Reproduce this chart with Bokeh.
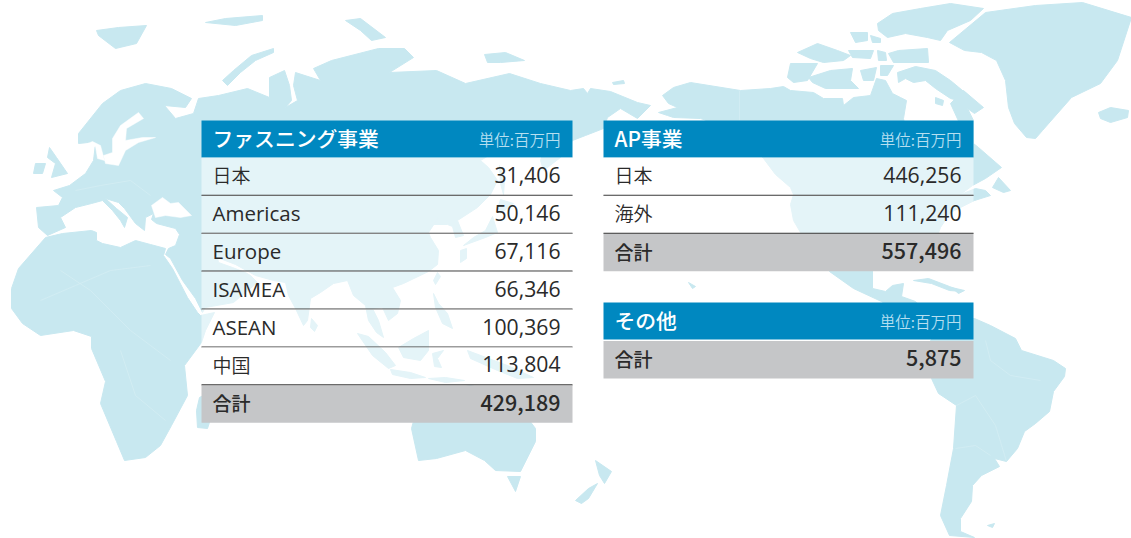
from bokeh.plotting import figure
from bokeh.models import Range1d
from bokeh.core.properties import value
from bokeh.embed import file_html
from bokeh.resources import INLINE

# ---------- table content ----------
unit_label = "単位:百万円"
fasten_title = "ファスニング事業"
fasten_rows = ["日本", "Americas", "Europe", "ISAMEA", "ASEAN", "中国"]
fasten_vals = ["31,406", "50,146", "67,116", "66,346", "100,369", "113,804"]
fasten_total = "429,189"
ap_title = "AP事業"
ap_rows = ["日本", "海外"]
ap_vals = ["446,256", "111,240"]
ap_total = "557,496"
other_title = "その他"
other_total = "5,875"
total_label = "合計"

# ---------- backdrop map outlines (image coordinates) ----------
eurasia = [(38,227),(47,235),(65,227),(60,217),(75,207),(91,203),(102,200),(112,210),(120,220),(124,227),(127,217),(116,208),(105,198),(118,202),(124,208),(135,223),(144,230),(145,217),(153,213),(151,219),(156,223),(175,228),(179,234),(175,245),(168,248),(165,254),(170,258),(182,280),(195,298),(202,312),(205,307),(233,302),(257,282),(250,275),(245,272),(232,267),(218,262),(217,257),(235,264),(255,275),(273,280),(285,282),(288,295),(295,308),(303,325),(307,320),(310,298),(320,292),(333,283),(347,280),(353,295),(365,305),(368,320),(376,332),(383,337),(378,320),(372,308),(382,307),(388,320),(397,313),(400,300),(392,287),(403,283),(428,271),(437,264),(438,250),(430,237),(428,232),(438,217),(425,224),(447,224),(452,226),(455,237),(463,235),(457,220),(477,207),(490,194),(497,180),(488,167),(480,160),(505,145),(540,125),(545,145),(540,160),(543,170),(560,157),(572,140),(585,135),(603,128),(607,117),(620,108),(637,118),(650,105),(637,102),(610,91),(590,88),(587,93),(583,88),(570,90),(540,83),(509,73),(465,83),(436,70),(389,72),(413,57),(404,48),(378,48),(331,60),(313,68),(320,80),(295,72),(293,85),(297,100),(285,107),(291,100),(289,85),(284,70),(269,77),(269,97),(247,88),(218,95),(198,98),(193,113),(175,118),(164,105),(185,107),(191,98),(171,88),(145,83),(120,90),(102,103),(78,133),(78,143),(88,142),(95,143),(93,160),(85,173),(69,185),(53,190),(62,197),(58,205),(36,207)]
baltic = [(138,112),(143,118),(126,128),(125,140),(142,137),(155,137),(138,142),(125,150),(118,165),(105,163),(103,155),(112,152),(112,138),(120,125)]
kattegat = [(80,146),(92,141),(100,145),(104,160),(97,158),(95,146)]
black_sea = [(151,205),(162,197),(170,203),(178,202),(191,215),(180,217),(165,215),(155,217)]
africa = [(18,268),(45,237),(62,233),(91,230),(96,232),(96,240),(102,243),(120,247),(135,240),(150,244),(165,248),(163,255),(172,268),(187,297),(197,312),(200,315),(214,312),(205,330),(201,342),(184,365),(187,395),(171,425),(160,445),(145,457),(124,460),(116,441),(100,403),(105,381),(91,348),(91,336),(73,330),(40,335),(22,323),(11,308),(11,288)]
madagascar = [(199,397),(212,390),(216,400),(207,428),(197,427),(196,410)]
gb = [(49,147),(56,157),(67,173),(51,177),(55,163),(47,157)]
ireland = [(35,163),(45,163),(42,173),(33,173)]
svalbard = [(96,30),(118,27),(146,25),(136,43),(115,48),(98,35)]
franz = [(205,22),(225,18),(262,15),(262,20),(235,25)]
severnaya = [(345,20),(360,18),(385,37),(371,40),(360,30)]
novaya = [(273,48),(251,55),(233,70),(222,80),(227,85),(240,72),(255,60),(273,52)]
novosib = [(484,54),(505,52),(524,60),(500,62),(487,62)]
wrangel = [(612,82),(623,80),(624,83),(613,84)]
sumatra = [(357,333),(368,336),(385,352),(395,365),(388,368),(372,355)]
java = [(390,369),(410,372),(425,377),(410,378),(392,374)]
sunda = [(428,378),(445,377),(464,380),(445,382)]
borneo = [(398,347),(413,338),(428,330),(428,350),(420,360),(403,357)]
sulawesi = [(432,353),(443,350),(437,358),(441,367),(434,366)]
philippines = [(433,293),(438,303),(447,313),(452,328),(442,323),(435,307)]
taiwan = [(437,272),(440,276),(435,284),(433,280)]
new_guinea = [(467,350),(507,365),(533,377),(517,378),(497,370),(470,358)]
hokkaido = [(500,199),(513,203),(500,213),(498,205)]
sakhalin = [(499,165),(504,180),(503,194),(500,183)]
honshu = [(492,216),(497,232),(485,237),(463,245),(473,237),(485,230)]
kyushu = [(460,250),(466,248),(466,258),(460,262)]
sri_lanka = [(311,318),(317,325),(314,331),(310,327)]
australia = [(411,428),(420,395),(470,385),(510,395),(535,428),(535,441),(520,471),(495,470),(484,460),(465,450),(436,458),(418,460)]
tasmania = [(507,476),(520,476),(515,491)]
nz_north = [(595,460),(611,471),(604,483),(599,475)]
nz_south = [(597,483),(588,498),(581,503),(575,500),(588,488)]
north_america = [(662,95),(673,87),(690,82),(740,90),(770,88),(783,86),(790,90),(813,92),(823,98),(842,98),(843,105),(853,97),(870,95),(876,78),(885,80),(892,93),(900,97),(906,100),(903,118),(905,128),(925,150),(958,157),(960,125),(950,103),(963,90),(983,107),(974,113),(967,108),(973,120),(973,143),(978,147),(1001,167),(985,178),(972,185),(960,194),(975,188),(985,190),(990,195),(974,200),(950,212),(940,227),(937,235),(935,262),(915,270),(905,265),(872,262),(872,288),(885,291),(892,285),(903,283),(901,296),(915,301),(935,320),(925,330),(881,301),(853,288),(829,271),(800,232),(793,220),(790,204),(793,194),(790,187),(775,174),(763,158),(735,130),(700,118),(673,117),(667,115),(658,112),(677,107),(668,103)]
newfoundland = [(998,177),(1010,190),(1003,192),(992,187)]
south_america = [(931,378),(930,340),(950,320),(974,318),(990,325),(1015,338),(1021,350),(1053,360),(1065,368),(1064,376),(1053,391),(1049,411),(1035,423),(1024,431),(1017,448),(1006,461),(994,458),(999,466),(981,475),(972,485),(971,501),(960,518),(960,531),(974,537),(949,535),(940,515),(946,485),(953,448),(956,405),(938,393)]
falklands = [(987,525),(994,523),(992,527)]
greenland = [(949,42),(985,12),(1035,5),(1082,2),(1131,17),(1117,60),(1100,83),(1071,97),(1042,130),(1035,138),(1026,137),(1014,123),(1008,107),(1005,80),(996,60),(981,52),(964,50)]
iceland = [(1098,112),(1110,107),(1128,110),(1127,117),(1110,122),(1100,118)]
baffin = [(897,72),(915,66),(935,70),(950,80),(968,95),(966,102),(950,98),(935,88),(925,80),(913,82),(905,78),(898,82)]
ellesmere = [(877,23),(892,13),(920,8),(950,3),(983,8),(970,20),(947,30),(940,40),(927,37),(905,33),(887,37),(878,30)]
devon = [(898,50),(927,48),(928,62),(893,62),(888,53)]
isle_a = [(850,32),(867,32),(867,40),(855,42)]
isle_b = [(870,35),(880,38),(880,42),(872,42)]
melville = [(797,52),(817,43),(837,50),(850,55),(843,60),(823,62),(810,58)]
bathurst = [(848,50),(873,50),(870,58),(852,57)]
cornwallis = [(877,50),(885,52),(886,60),(878,60)]
banks = [(790,63),(817,63),(807,80),(793,82),(787,77)]
victoria = [(808,77),(830,70),(852,68),(850,80),(858,88),(825,88),(812,82)]
pr_wales = [(860,70),(876,67),(873,80),(863,80)]
somerset = [(880,65),(893,65),(887,75),(880,75)]
southampton = [(935,97),(943,100),(942,105),(935,103)]
cuba = [(913,280),(928,278),(949,286),(962,291),(949,290),(931,283)]
hispaniola = [(951,287),(964,290),(958,293)]
hawaii = [(688,282),(695,286),(692,288)]

land = [eurasia, africa, madagascar, gb, ireland, svalbard, franz, severnaya, novaya, novosib, wrangel,
        sumatra, java, sunda, borneo, sulawesi, philippines, taiwan, new_guinea, hokkaido, sakhalin, honshu,
        kyushu, sri_lanka, australia, tasmania, nz_north, nz_south, north_america, newfoundland, south_america,
        falklands, greenland, iceland, baffin, ellesmere, devon, isle_a, isle_b, melville, bathurst, cornwallis,
        banks, victoria, pr_wales, somerset, southampton, cuba, hispaniola, hawaii]
seas = [baltic, kattegat, black_sea]

borders = [
    [(739,90),(739,120)],
    [(985,340),(990,360),(1010,375),(1040,380)],
    [(956,405),(975,395),(995,425),(1006,461)],
    [(955,448),(975,445),(990,455)],
    [(60,270),(90,290),(110,310),(130,330),(150,345),(170,360)],
    [(40,300),(75,285),(110,270),(150,265)],
    [(120,350),(135,395),(165,420)],
    [(75,190),(100,185),(130,180),(150,195)],
]

# ---------- colours ----------
LAND = "#c8e8f0"
BLUE = "#0088c0"
GREY = "#c5c6c8"
INK = "#2a2a2a"
UNIT = "#b5dff0"
LINE = "#3a3a3a"

# ---------- table geometry ----------
LEFT_X = (201, 572)
RIGHT_X = (603, 973)
HEAD_TOP = 120
HEAD_H = 37
ROW_H = 37.9
PAD = 12
OTHER_TOP = 302

p = figure(width=1131, height=538, output_backend="svg", toolbar_location=None,
           x_range=Range1d(0, 1131), y_range=Range1d(538, 0),
           x_axis_type=None, y_axis_type=None, min_border=0, outline_line_color=None)
p.xgrid.visible = False
p.ygrid.visible = False

p.patches([[c[0] for c in s] for s in land], [[c[1] for c in s] for s in land],
          fill_color=LAND, line_color=LAND, line_width=1)
p.patches([[c[0] for c in s] for s in seas], [[c[1] for c in s] for s in seas],
          fill_color="white", line_color="white", line_width=0.5)
p.multi_line([[c[0] for c in s] for s in borders], [[c[1] for c in s] for s in borders],
             line_color="#d6eef4", line_width=0.7)

CJK = value("Noto Sans CJK JP DemiLight")
MED = value("Noto Sans CJK JP Medium")
LATIN = value("Open Sans")


def put(x, y, s, size, color, font=CJK, align="left"):
    p.text([x], [y], text=[s], text_font=font, text_font_size=f"{size}px", text_color=color,
           text_align=align, text_baseline="middle")


def table(xr, top, title, rows, vals, total):
    x0, x1 = xr
    left_text = x0 + PAD - 1
    right_text = x1 - PAD
    p.quad(left=[x0], right=[x1], top=[top], bottom=[top + HEAD_H], fill_color=BLUE, line_color=None)
    put(left_text, top + HEAD_H / 2 - 1, title, 20.8, "white", MED)
    put(right_text, top + HEAD_H / 2, unit_label, 15.5, UNIT, align="right")
    y = top + HEAD_H + (1 if not rows else 0)
    for name, val in zip(rows, vals):
        p.quad(left=[x0], right=[x1], top=[y], bottom=[y + ROW_H], fill_color="white", fill_alpha=0.5,
               line_color=None)
        p.segment([x0], [y + ROW_H], [x1], [y + ROW_H], line_color=LINE, line_width=1.2)
        is_ascii = name.isascii()
        put(left_text, y + ROW_H / 2 - 1.5, name, 20.5 if is_ascii else 19, INK, LATIN if is_ascii else CJK)
        put(right_text, y + ROW_H / 2 - 1.5, val, 21.2, INK, LATIN, align="right")
        y += ROW_H
    p.quad(left=[x0], right=[x1], top=[y + 0.5], bottom=[y + ROW_H], fill_color=GREY, line_color=None)
    put(left_text, y + ROW_H / 2 - 1, total_label, 19, INK, MED)
    put(right_text, y + ROW_H / 2 - 1, total, 21.5, INK, MED, align="right")


table(LEFT_X, HEAD_TOP, fasten_title, fasten_rows, fasten_vals, fasten_total)
table(RIGHT_X, HEAD_TOP, ap_title, ap_rows, ap_vals, ap_total)
table(RIGHT_X, OTHER_TOP, other_title, [], [], other_total)

open("out.html", "w").write(file_html(p, INLINE))
